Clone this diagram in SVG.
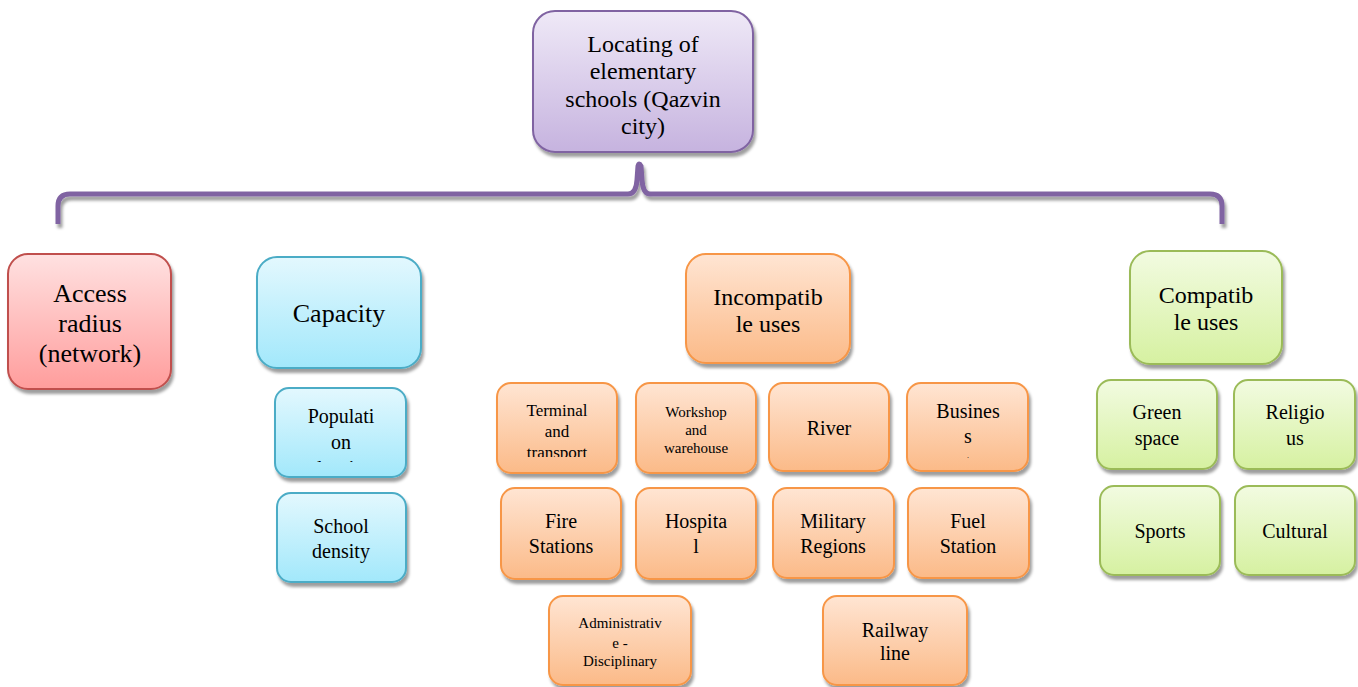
<svg xmlns="http://www.w3.org/2000/svg" width="1358" height="687" viewBox="0 0 1358 687">
<defs>
<filter id="sh" x="-20%" y="-20%" width="140%" height="150%">
<feDropShadow dx="2" dy="4" stdDeviation="1.6" flood-color="#000" flood-opacity="0.38"/>
</filter>
<linearGradient id="gP" x1="0" y1="0" x2="0" y2="1"><stop offset="0" stop-color="#efe9f7"/><stop offset="1" stop-color="#c6b3df"/></linearGradient>
<linearGradient id="gR" x1="0" y1="0" x2="0" y2="1"><stop offset="0" stop-color="#ffe1e1"/><stop offset="1" stop-color="#ff9d9c"/></linearGradient>
<linearGradient id="gB" x1="0" y1="0" x2="0" y2="1"><stop offset="0" stop-color="#e3f8fe"/><stop offset="1" stop-color="#a2e8fb"/></linearGradient>
<linearGradient id="gO" x1="0" y1="0" x2="0" y2="1"><stop offset="0" stop-color="#ffe5d3"/><stop offset="1" stop-color="#fbba88"/></linearGradient>
<linearGradient id="gG" x1="0" y1="0" x2="0" y2="1"><stop offset="0" stop-color="#f2fbe1"/><stop offset="1" stop-color="#d6f1a1"/></linearGradient>
<clipPath id="cTerm"><rect x="497" y="383" width="120" height="74"/></clipPath>
<clipPath id="cPop"><rect x="275" y="388" width="131" height="74"/></clipPath>
</defs>
<g id="connectors">
<path d="M58,224 L58,206 Q58,194 70,194 L628,194 Q636,194 637,180 L638,166 Q639,162 641,166 L642,180 Q643,194 650,194 L1210,194 Q1222,194 1222,206 L1222,224" fill="none" stroke="#8064a2" stroke-width="5" filter="url(#sh)"/>
</g>
<g id="root"><rect fill="url(#gP)" stroke="#8064a2" stroke-width="2" filter="url(#sh)" x="533" y="11" width="220" height="141" rx="22"/>
<text style="font-family:'Times New Roman','Liberation Serif',serif;font-size:24px" text-anchor="middle" x="643" y="52">Locating of</text><text style="font-family:'Times New Roman','Liberation Serif',serif;font-size:24px" text-anchor="middle" x="643" y="79">elementary</text><text style="font-family:'Times New Roman','Liberation Serif',serif;font-size:24px" text-anchor="middle" x="643" y="107">schools (Qazvin</text><text style="font-family:'Times New Roman','Liberation Serif',serif;font-size:24px" text-anchor="middle" x="643" y="134">city)</text></g>
<g id="access"><rect fill="url(#gR)" stroke="#c0504d" stroke-width="2" filter="url(#sh)" x="8" y="254" width="163" height="135" rx="20"/>
<text style="font-family:'Times New Roman','Liberation Serif',serif;font-size:26px" text-anchor="middle" x="90" y="302">Access</text><text style="font-family:'Times New Roman','Liberation Serif',serif;font-size:26px" text-anchor="middle" x="90" y="332">radius</text><text style="font-family:'Times New Roman','Liberation Serif',serif;font-size:26px" text-anchor="middle" x="90" y="362">(network)</text></g>
<g id="capacity"><rect fill="url(#gB)" stroke="#4bacc6" stroke-width="2" filter="url(#sh)" x="257" y="257" width="164" height="111" rx="20"/>
<text style="font-family:'Times New Roman','Liberation Serif',serif;font-size:26px" text-anchor="middle" x="339" y="322">Capacity</text></g>
<g id="popdensity"><rect fill="url(#gB)" stroke="#4bacc6" stroke-width="2" filter="url(#sh)" x="275" y="388" width="131" height="89" rx="14"/>
<g clip-path="url(#cPop)"><text style="font-family:'Times New Roman','Liberation Serif',serif;font-size:20px" text-anchor="middle" x="341" y="423">Populati</text><text style="font-family:'Times New Roman','Liberation Serif',serif;font-size:20px" text-anchor="middle" x="341" y="449">on</text><text style="font-family:'Times New Roman','Liberation Serif',serif;font-size:20px" text-anchor="middle" x="341" y="475">density</text></g></g>
<g id="schooldensity"><rect fill="url(#gB)" stroke="#4bacc6" stroke-width="2" filter="url(#sh)" x="277" y="493" width="129" height="89" rx="14"/>
<text style="font-family:'Times New Roman','Liberation Serif',serif;font-size:20px" text-anchor="middle" x="341" y="533">School</text><text style="font-family:'Times New Roman','Liberation Serif',serif;font-size:20px" text-anchor="middle" x="341" y="558">density</text></g>
<g id="incompatible"><rect fill="url(#gO)" stroke="#f79646" stroke-width="2" filter="url(#sh)" x="686" y="254" width="164" height="109" rx="20"/>
<text style="font-family:'Times New Roman','Liberation Serif',serif;font-size:24px" text-anchor="middle" x="768" y="305">Incompatib</text><text style="font-family:'Times New Roman','Liberation Serif',serif;font-size:24px" text-anchor="middle" x="768" y="332">le uses</text></g>
<g id="terminal"><rect fill="url(#gO)" stroke="#f79646" stroke-width="2" filter="url(#sh)" x="497" y="383" width="120" height="90" rx="14"/>
<g clip-path="url(#cTerm)"><text style="font-family:'Times New Roman','Liberation Serif',serif;font-size:17px" text-anchor="middle" x="557" y="416">Terminal</text><text style="font-family:'Times New Roman','Liberation Serif',serif;font-size:17px" text-anchor="middle" x="557" y="437">and</text><text style="font-family:'Times New Roman','Liberation Serif',serif;font-size:17px" text-anchor="middle" x="557" y="458">transport</text></g></g>
<g id="workshop"><rect fill="url(#gO)" stroke="#f79646" stroke-width="2" filter="url(#sh)" x="636" y="383" width="120" height="90" rx="14"/>
<text style="font-family:'Times New Roman','Liberation Serif',serif;font-size:15px" text-anchor="middle" x="696" y="417">Workshop</text><text style="font-family:'Times New Roman','Liberation Serif',serif;font-size:15px" text-anchor="middle" x="696" y="435">and</text><text style="font-family:'Times New Roman','Liberation Serif',serif;font-size:15px" text-anchor="middle" x="696" y="453">warehouse</text></g>
<g id="river"><rect fill="url(#gO)" stroke="#f79646" stroke-width="2" filter="url(#sh)" x="769" y="383" width="120" height="88" rx="14"/>
<text style="font-family:'Times New Roman','Liberation Serif',serif;font-size:20px" text-anchor="middle" x="829" y="435">River</text></g>
<g id="business"><rect fill="url(#gO)" stroke="#f79646" stroke-width="2" filter="url(#sh)" x="907" y="383" width="121" height="88" rx="14"/>
<text style="font-family:'Times New Roman','Liberation Serif',serif;font-size:20px" text-anchor="middle" x="968" y="418">Busines</text><text style="font-family:'Times New Roman','Liberation Serif',serif;font-size:20px" text-anchor="middle" x="968" y="443">s</text><text style="font-family:'Times New Roman','Liberation Serif',serif;font-size:8px" text-anchor="middle" x="968" y="458">.</text></g>
<g id="fire"><rect fill="url(#gO)" stroke="#f79646" stroke-width="2" filter="url(#sh)" x="501" y="488" width="120" height="91" rx="14"/>
<text style="font-family:'Times New Roman','Liberation Serif',serif;font-size:20px" text-anchor="middle" x="561" y="528">Fire</text><text style="font-family:'Times New Roman','Liberation Serif',serif;font-size:20px" text-anchor="middle" x="561" y="553">Stations</text></g>
<g id="hospital"><rect fill="url(#gO)" stroke="#f79646" stroke-width="2" filter="url(#sh)" x="636" y="488" width="120" height="91" rx="14"/>
<text style="font-family:'Times New Roman','Liberation Serif',serif;font-size:20px" text-anchor="middle" x="696" y="528">Hospita</text><text style="font-family:'Times New Roman','Liberation Serif',serif;font-size:20px" text-anchor="middle" x="696" y="553">l</text></g>
<g id="military"><rect fill="url(#gO)" stroke="#f79646" stroke-width="2" filter="url(#sh)" x="773" y="488" width="121" height="90" rx="14"/>
<text style="font-family:'Times New Roman','Liberation Serif',serif;font-size:20px" text-anchor="middle" x="833" y="528">Military</text><text style="font-family:'Times New Roman','Liberation Serif',serif;font-size:20px" text-anchor="middle" x="833" y="553">Regions</text></g>
<g id="fuel"><rect fill="url(#gO)" stroke="#f79646" stroke-width="2" filter="url(#sh)" x="908" y="488" width="121" height="90" rx="14"/>
<text style="font-family:'Times New Roman','Liberation Serif',serif;font-size:20px" text-anchor="middle" x="968" y="528">Fuel</text><text style="font-family:'Times New Roman','Liberation Serif',serif;font-size:20px" text-anchor="middle" x="968" y="553">Station</text></g>
<g id="administrative"><rect fill="url(#gO)" stroke="#f79646" stroke-width="2" filter="url(#sh)" x="549" y="596" width="142" height="89" rx="14"/>
<text style="font-family:'Times New Roman','Liberation Serif',serif;font-size:15px" text-anchor="middle" x="620" y="628">Administrativ</text><text style="font-family:'Times New Roman','Liberation Serif',serif;font-size:15px" text-anchor="middle" x="620" y="648">e -</text><text style="font-family:'Times New Roman','Liberation Serif',serif;font-size:15px" text-anchor="middle" x="620" y="666">Disciplinary</text></g>
<g id="railway"><rect fill="url(#gO)" stroke="#f79646" stroke-width="2" filter="url(#sh)" x="823" y="596" width="144" height="89" rx="14"/>
<text style="font-family:'Times New Roman','Liberation Serif',serif;font-size:20px" text-anchor="middle" x="895" y="637">Railway</text><text style="font-family:'Times New Roman','Liberation Serif',serif;font-size:20px" text-anchor="middle" x="895" y="660">line</text></g>
<g id="compatible"><rect fill="url(#gG)" stroke="#9bbb59" stroke-width="2" filter="url(#sh)" x="1130" y="251" width="152" height="113" rx="20"/>
<text style="font-family:'Times New Roman','Liberation Serif',serif;font-size:24px" text-anchor="middle" x="1206" y="303">Compatib</text><text style="font-family:'Times New Roman','Liberation Serif',serif;font-size:24px" text-anchor="middle" x="1206" y="330">le uses</text></g>
<g id="green"><rect fill="url(#gG)" stroke="#9bbb59" stroke-width="2" filter="url(#sh)" x="1097" y="380" width="120" height="89" rx="14"/>
<text style="font-family:'Times New Roman','Liberation Serif',serif;font-size:20px" text-anchor="middle" x="1157" y="419">Green</text><text style="font-family:'Times New Roman','Liberation Serif',serif;font-size:20px" text-anchor="middle" x="1157" y="445">space</text></g>
<g id="religious"><rect fill="url(#gG)" stroke="#9bbb59" stroke-width="2" filter="url(#sh)" x="1234" y="380" width="121" height="89" rx="14"/>
<text style="font-family:'Times New Roman','Liberation Serif',serif;font-size:20px" text-anchor="middle" x="1295" y="419">Religio</text><text style="font-family:'Times New Roman','Liberation Serif',serif;font-size:20px" text-anchor="middle" x="1295" y="445">us</text></g>
<g id="sports"><rect fill="url(#gG)" stroke="#9bbb59" stroke-width="2" filter="url(#sh)" x="1100" y="486" width="120" height="89" rx="14"/>
<text style="font-family:'Times New Roman','Liberation Serif',serif;font-size:20px" text-anchor="middle" x="1160" y="538">Sports</text></g>
<g id="cultural"><rect fill="url(#gG)" stroke="#9bbb59" stroke-width="2" filter="url(#sh)" x="1235" y="486" width="120" height="89" rx="14"/>
<text style="font-family:'Times New Roman','Liberation Serif',serif;font-size:20px" text-anchor="middle" x="1295" y="538">Cultural</text></g>
</svg>
